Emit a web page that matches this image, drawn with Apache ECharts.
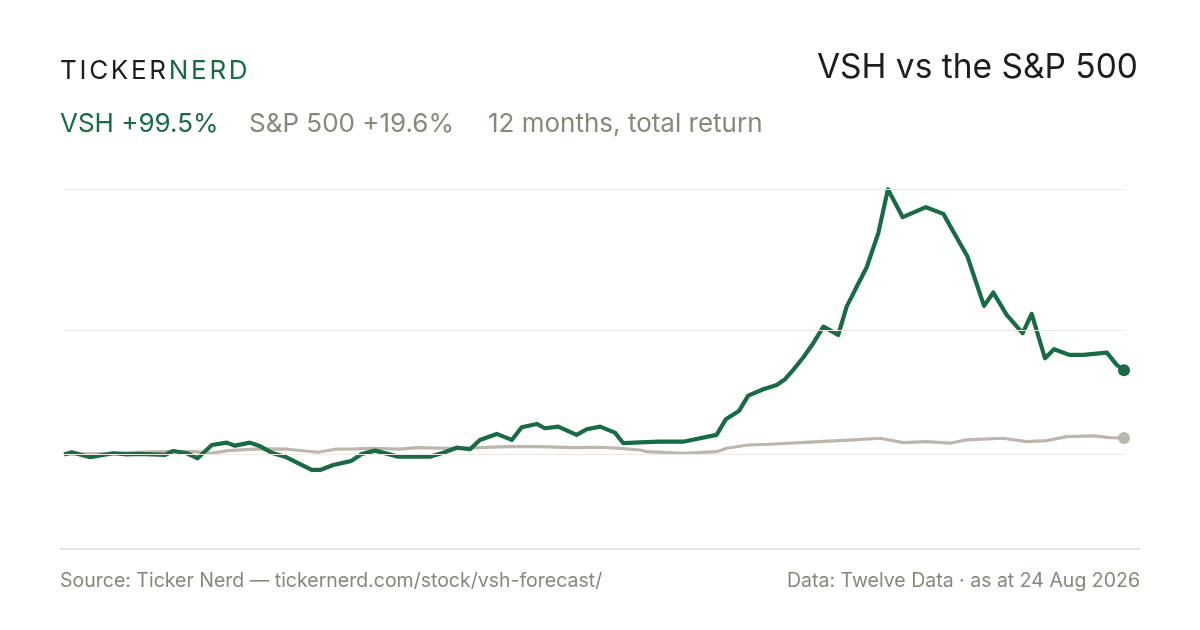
<!DOCTYPE html>
<html>
<head>
<meta charset="utf-8">
<script src="https://cdn.jsdelivr.net/npm/echarts@6/dist/echarts.min.js"></script>
<style>
  html, body { margin: 0; padding: 0; background: #fff; }
  #chart { width: 1200px; height: 630px; }
</style>
</head>
<body>
<div id="chart"></div>
<script>
// days since start of window (0..365) and total return in %
var vshDays = [0, 2.7, 9, 17, 21.6, 25.6, 34.8, 37.6, 42.3, 46, 50.9, 56, 58.9, 64, 67.1, 72, 76.1, 81.8, 85.3, 88.2,
  92.7, 97.9, 99, 102.5, 107.1, 115.1, 126, 130.6, 135.2, 139.8, 143.2, 149, 154.2, 157.6, 162.8, 165.6, 170.2, 176.5,
  180, 184.6, 189.7, 192.6, 198.3, 205.2, 213.2, 224.7, 227.9, 232.5, 235.6, 240.8, 245.4, 248.3, 251.1, 254.6, 258,
  261.5, 266.6, 269.5, 273, 276.4, 280.4, 283.7, 288.8, 296.8, 302.8, 306.2, 311.1, 316.8, 320, 324.6, 330.1, 333.2,
  337.8, 340.9, 346.2, 351, 359.1, 362.5, 365];
var vshPct = [0, 2.6, -3.3, 1.4, 0.2, 0.6, -0.6, 4.1, 1.4, -4.5, 11.2, 14.0, 10.4, 14.0, 10.4, 1.4, -2.6, -12.4, -18.3, -18.3,
  -12.4, -8.5, -7.3, 0.6, 4.5, -2.6, -2.6, 2.1, 8.0, 6.2, 17.2, 24.3, 17.2, 32.2, 36.1, 31.0, 32.9, 23.1,
  29.8, 32.9, 25.8, 13.3, 14.4, 15.1, 15.1, 23.1, 41.7, 51.8, 69.6, 77.2, 82.2, 89, 100, 115, 131.6,
  151.2, 141.4, 174.9, 198.6, 221.5, 261.8, 313.6, 280.7, 292.5, 284.6, 263.7, 234.1, 175.7, 191.5, 165.1, 143.4, 166.3,
  113.8, 124.5, 117.8, 117.8, 120.5, 105.9, 99.5];

var spxDays = [0, 16.8, 25.5, 34.8, 45.1, 50.6, 56.5, 65.8, 71.6, 77.1, 87.5, 93.3, 100.2, 106.5, 115.7, 121.4, 132.9,
  143.2, 152.4, 163.9, 175.4, 184.6, 191.5, 198.3, 200.6, 213.2, 224.7, 228.2, 235.6, 243.1, 253.4, 260.3, 271.8,
  281, 288.9, 297.1, 305.1, 310.8, 323.3, 331.5, 338.4, 345.3, 354.3, 360.2, 365];
var spxPct = [0, 1.4, 2.6, 3.3, 3.3, 1.4, 4.5, 6.2, 6.5, 6.2, 2.6, 6.2, 6.5, 7.3, 6.2, 8.0, 7.3,
  8.0, 9.2, 9.2, 8.0, 8.5, 7.3, 5.3, 3.3, 1.4, 3.3, 7.3, 11.2, 12.1, 14, 15.1, 17.2,
  19.2, 14, 15.1, 13.3, 17.2, 19.2, 15.1, 16.3, 21.1, 21.9, 19.9, 19.6];

var gridValues = [0, 147, 314];

var GREEN = '#186b44';
var GREY_LINE = '#bdb6ab';
var GREY_TEXT = '#8b8677';
var DARK = '#1d1d1b';
var FONT = 'Inter, "Noto Sans", sans-serif';

function pairs(xs, ys) {
  return xs.map(function (d, i) { return [d, ys[i]]; });
}

// letter-spaced logo, measured with a canvas
var measure = document.createElement('canvas').getContext('2d');
measure.font = '400 26px ' + FONT;
var logoEls = [];
var lx = 60;
'TICKERNERD'.split('').forEach(function (ch, i) {
  logoEls.push({
    type: 'text', left: lx, top: 58,
    style: { text: ch, font: '400 26px ' + FONT, fill: i < 6 ? DARK : GREEN }
  });
  lx += measure.measureText(ch).width + 2.7;
});

var myChart = echarts.init(document.getElementById('chart'), null, { renderer: 'canvas' });
var lastV = vshDays.length - 1, lastS = spxDays.length - 1;

var option = {
  animation: false,
  backgroundColor: '#ffffff',
  grid: { left: 64, right: 76, top: 189, bottom: 91 },
  xAxis: { type: 'value', min: 0, max: 365, show: false },
  yAxis: { type: 'value', min: -100, max: 314, show: false, splitLine: { show: false } },
  graphic: logoEls.concat([
    {
      type: 'text', right: 62, top: 51,
      style: { text: 'VSH vs the S&P 500', font: '400 33.5px ' + FONT, fill: DARK }
    },
    {
      type: 'text', left: 60, top: 111,
      style: { text: 'VSH +99.5%', font: '400 26px ' + FONT, fill: GREEN }
    },
    {
      type: 'text', left: 249, top: 111,
      style: { text: 'S&P 500 +19.6%', font: '400 26px ' + FONT, fill: GREY_TEXT }
    },
    {
      type: 'text', left: 488, top: 111,
      style: { text: '12 months, total return', font: '400 26px ' + FONT, fill: GREY_TEXT }
    },
    {
      type: 'line', shape: { x1: 60, y1: 549, x2: 1140, y2: 549 },
      style: { stroke: '#e1ddd4', lineWidth: 1.5 }
    },
    {
      type: 'text', left: 60, top: 571,
      style: { text: 'Source: Ticker Nerd \u2014 tickernerd.com/stock/vsh-forecast/', font: '400 19.5px ' + FONT, fill: GREY_TEXT }
    },
    {
      type: 'text', right: 60, top: 571,
      style: { text: 'Data: Twelve Data \u00b7 as at 24 Aug 2026', font: '400 19.5px ' + FONT, fill: GREY_TEXT }
    }
  ]),
  series: [
    {
      // gridlines
      type: 'line', data: [], z: 1, silent: true,
      markLine: {
        silent: true, symbol: 'none', label: { show: false },
        lineStyle: { color: '#ebe8e2', width: 1, type: 'solid' },
        data: gridValues.map(function (v) { return { yAxis: v }; })
      }
    },
    {
      name: 'S&P 500', type: 'line', z: 2,
      data: pairs(spxDays, spxPct),
      symbol: 'circle',
      symbolSize: function (v, p) { return p.dataIndex === lastS ? 12 : 0; },
      itemStyle: { color: GREY_LINE },
      lineStyle: { color: GREY_LINE, width: 3.2, join: 'round' }
    },
    {
      name: 'VSH', type: 'line', z: 3,
      data: pairs(vshDays, vshPct),
      symbol: 'circle',
      symbolSize: function (v, p) { return p.dataIndex === lastV ? 12 : 0; },
      itemStyle: { color: GREEN },
      lineStyle: { color: GREEN, width: 4.2, join: 'round' }
    }
  ]
};
myChart.setOption(option);
</script>
</body>
</html>
